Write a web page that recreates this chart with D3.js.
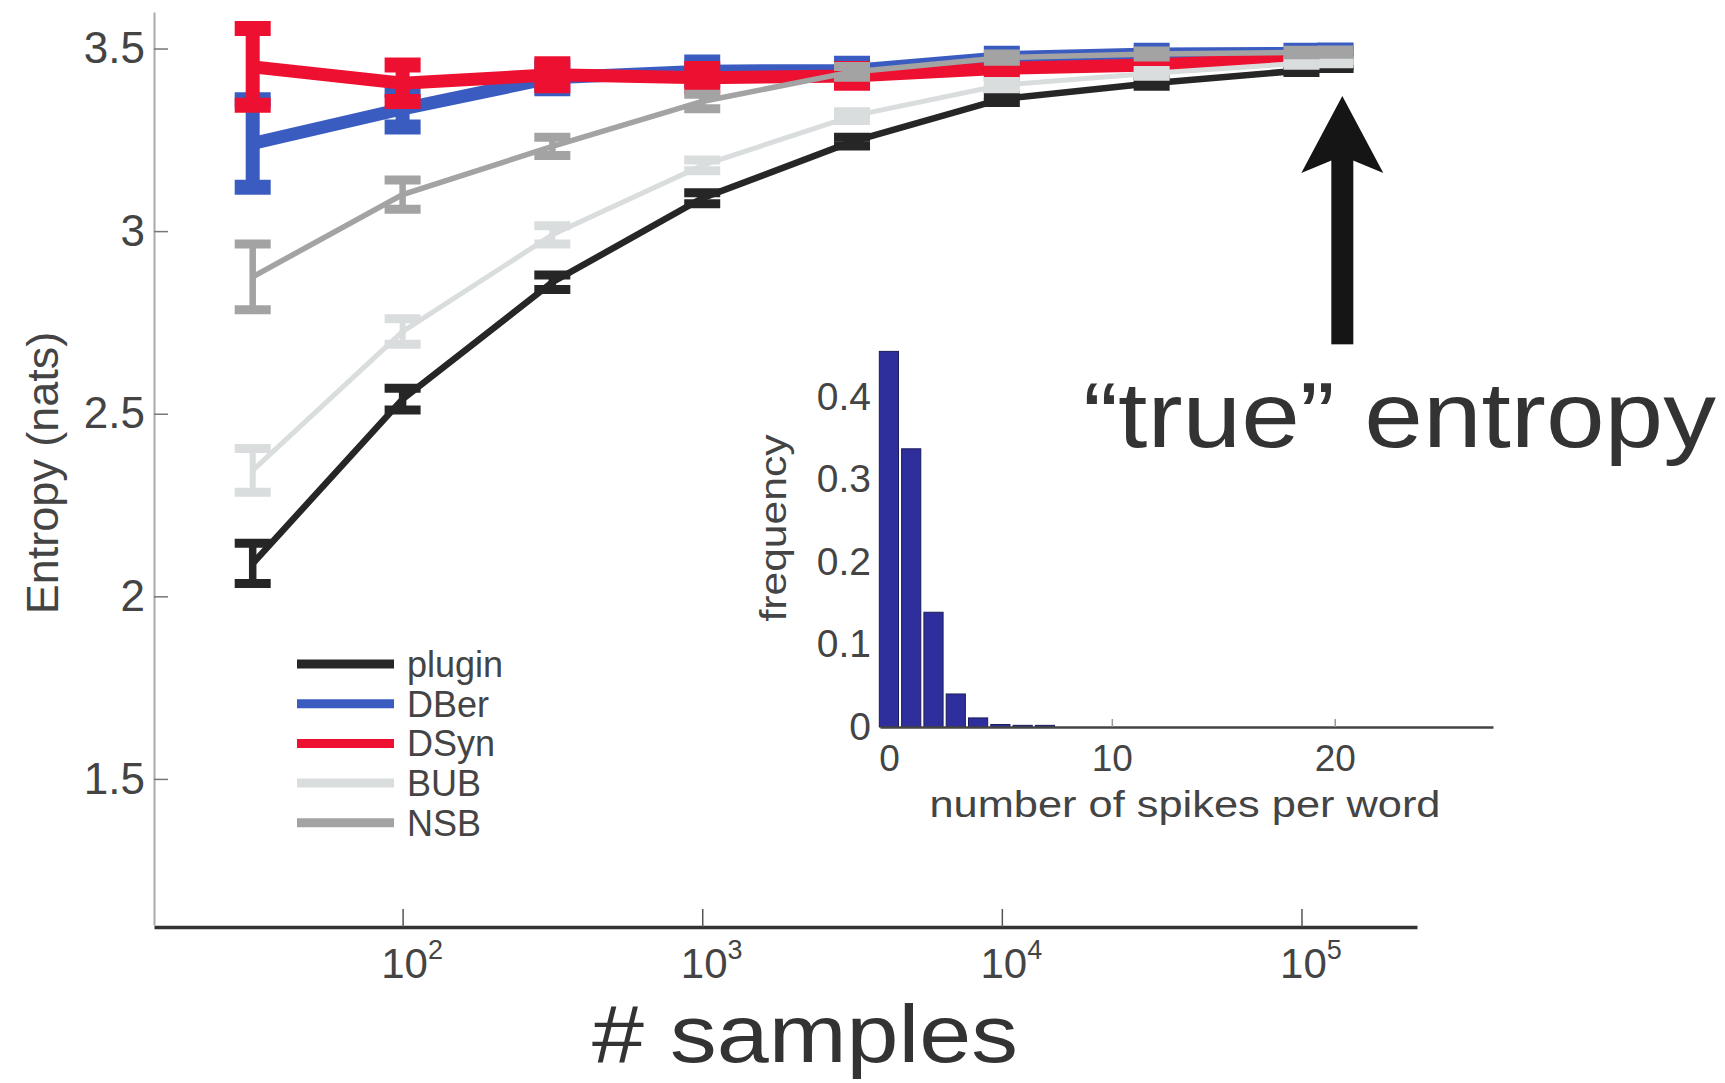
<!DOCTYPE html>
<html>
<head>
<meta charset="utf-8">
<script src="https://cdn.jsdelivr.net/npm/d3@7"></script>
<style>
  body { margin: 0; background: #fff; }
  text { font-family: "Liberation Sans", Arial, sans-serif; }
</style>
</head>
<body>
<div id="container"></div>
<script>
// sample sizes (x, log scale)
var samples = [31.6, 100, 316, 1000, 3162, 10000, 31623, 100000, 130000];

// entropy estimates (nats) and half error bars
var plugin    = [2.09, 2.54, 2.86, 3.09, 3.245, 3.362, 3.405, 3.44, 3.45];
var pluginErr = [0.055, 0.03, 0.02, 0.015, 0.012, 0.01, 0.008, 0.006, 0.005];
var dber      = [3.24, 3.335, 3.42, 3.438, 3.44, 3.475, 3.485, 3.487, 3.49];
var dberErr   = [0.12, 0.05, 0.03, 0.025, 0.02, 0.012, 0.01, 0.008, 0.006];
var dsyn      = [3.45, 3.405, 3.428, 3.42, 3.425, 3.446, 3.455, 3.473, 3.48];
var dsynErr   = [0.105, 0.05, 0.03, 0.025, 0.02, 0.015, 0.01, 0.008, 0.006];
var bub       = [2.345, 2.725, 2.99, 3.18, 3.315, 3.40, 3.432, 3.46, 3.463];
var bubErr    = [0.06, 0.035, 0.025, 0.015, 0.012, 0.01, 0.008, 0.006, 0.005];
var nsb       = [2.875, 3.10, 3.232, 3.355, 3.436, 3.475, 3.485, 3.489, 3.49];
var nsbErr    = [0.09, 0.04, 0.025, 0.02, 0.015, 0.01, 0.008, 0.006, 0.006];

var seriesNames = ["plugin", "DBer", "DSyn", "BUB", "NSB"];
var yTicks = [1.5, 2, 2.5, 3, 3.5];
var xTicksExp = [2, 3, 4, 5];

// inset histogram
var spikeCounts = [0, 1, 2, 3, 4, 5, 6, 7];
var spikeFreq   = [0.455, 0.337, 0.139, 0.04, 0.011, 0.003, 0.002, 0.002];
var insetXTicks = [0, 10, 20];
var insetYTicks = [0, 0.1, 0.2, 0.3, 0.4];

// annotation (arrow from ~2.69 up to ~3.37 at the last sample size)
var arrowRange = [2.69, 3.37];

var W = 1725, H = 1083;

var svg = d3.select("#container").append("svg")
    .attr("width", W).attr("height", H)
    .style("display", "block");

svg.append("rect").attr("width", W).attr("height", H).attr("fill", "#fff");

// escalas
var x = d3.scaleLog().domain([14.8, 2.43e5]).range([154, 1417]);
var y = d3.scaleLinear().domain([1.1, 3.6]).range([925, 12]);

// eje y
var yAxis = svg.append("g")
    .attr("transform", "translate(154,0)")
    .call(d3.axisLeft(y).tickValues(yTicks).tickSizeInner(-14).tickSizeOuter(0)
        .tickPadding(9).tickFormat(function (d) { return String(d); }));
yAxis.select(".domain").attr("stroke", "#aaa").attr("stroke-width", 2);
yAxis.selectAll(".tick line").attr("stroke", "#777").attr("stroke-width", 1.5);
yAxis.selectAll(".tick text").attr("font-size", 44).attr("fill", "#444")
    .attr("font-family", "Liberation Sans, Arial, sans-serif");

// eje x
var xAxis = svg.append("g")
    .attr("transform", "translate(0,927)")
    .call(d3.axisBottom(x).tickValues(xTicksExp.map(function (e) { return Math.pow(10, e); }))
        .tickSizeInner(-18).tickSizeOuter(0).tickFormat(function () { return ""; }));
xAxis.select(".domain").attr("stroke", "#333").attr("stroke-width", 3.5);
xAxis.selectAll(".tick line").attr("stroke", "#555").attr("stroke-width", 1.5);
xAxis.selectAll(".tick text").each(function (d, i) {
    var t = d3.select(this)
        .attr("y", 51).attr("dy", null).attr("x", 9)
        .attr("font-size", 42).attr("fill", "#444")
        .attr("font-family", "Liberation Sans, Arial, sans-serif");
    t.text(null);
    t.append("tspan").text("10");
    t.append("tspan").attr("font-size", 27).attr("dy", -19).text(String(xTicksExp[i]));
});

// y label
svg.append("text")
    .attr("transform", "translate(42,473) rotate(-90)")
    .attr("text-anchor", "middle").attr("dy", "0.35em")
    .attr("font-size", 45).attr("fill", "#444")
    .text("Entropy (nats)");

// x label
svg.append("text")
    .attr("x", 592).attr("y", 1062)
    .attr("font-family", "Lato, 'Open Sans', sans-serif")
    .attr("font-size", 82).attr("fill", "#333")
    .attr("textLength", 426).attr("lengthAdjust", "spacingAndGlyphs")
    .text("# samples");

// series
var series = [
    { name: "plugin", vals: plugin, errs: pluginErr, color: "#262626", lw: 6.5, cap: 9 },
    { name: "DBer", vals: dber, errs: dberErr, color: "#3a5cc0", lw: 13, cap: 15 },
    { name: "DSyn", vals: dsyn, errs: dsynErr, color: "#ee1030", lw: 13, cap: 15 },
    { name: "BUB", vals: bub, errs: bubErr, color: "#d9dddd", lw: 5, cap: 9 },
    { name: "NSB", vals: nsb, errs: nsbErr, color: "#a3a3a3", lw: 5.5, cap: 9 }
];

var line = d3.line()
    .x(function (d) { return x(d.s); })
    .y(function (d) { return y(d.v); });

var capHalf = 18;

series.forEach(function (s) {
    var pts = samples.map(function (sv, i) { return { s: sv, v: s.vals[i], e: s.errs[i] }; });
    var g = svg.append("g").attr("class", "serie");

    g.append("path")
        .datum(pts)
        .attr("d", line)
        .attr("fill", "none")
        .attr("stroke", s.color)
        .attr("stroke-width", s.lw)
        .attr("stroke-linejoin", "miter");

    var eb = g.selectAll(".eb").data(pts).enter().append("g").attr("class", "eb");
    eb.append("line")
        .attr("x1", function (d) { return x(d.s); })
        .attr("x2", function (d) { return x(d.s); })
        .attr("y1", function (d) { return y(d.v - d.e); })
        .attr("y2", function (d) { return y(d.v + d.e); })
        .attr("stroke", s.color).attr("stroke-width", s.lw + 1);
    [-1, 1].forEach(function (sign) {
        eb.append("line")
            .attr("x1", function (d) { return x(d.s) - capHalf; })
            .attr("x2", function (d) { return x(d.s) + capHalf; })
            .attr("y1", function (d) { return y(d.v + sign * d.e); })
            .attr("y2", function (d) { return y(d.v + sign * d.e); })
            .attr("stroke", s.color).attr("stroke-width", s.cap);
    });
});

// leyenda
var legend = svg.append("g").attr("transform", "translate(297,664)");
var leg = legend.selectAll(".leg").data(series).enter().append("g")
    .attr("transform", function (d, i) { return "translate(0," + (i * 39.7) + ")"; });
leg.append("line").attr("x1", 0).attr("x2", 97).attr("y1", 0).attr("y2", 0)
    .attr("stroke", function (d) { return d.color; }).attr("stroke-width", 9);
leg.append("text").attr("x", 110).attr("y", 0).attr("dy", "0.36em")
    .attr("font-size", 36).attr("fill", "#444")
    .text(function (d) { return d.name; });

// flecha "true" entropy
var ax = x(1.39e5) - 2;
var tipY = y(arrowRange[1]), baseY = y(arrowRange[0]);
var arrow = svg.append("g").attr("fill", "#151515");
arrow.append("rect")
    .attr("x", ax - 11).attr("width", 22)
    .attr("y", tipY + 60).attr("height", baseY - tipY - 60);
arrow.append("path")
    .attr("d", "M" + ax + "," + tipY +
        " L" + (ax + 41) + "," + (tipY + 77) +
        " L" + ax + "," + (tipY + 60) +
        " L" + (ax - 41) + "," + (tipY + 77) + " Z");

svg.append("text")
    .attr("x", 1083).attr("y", 447)
    .attr("font-family", "Lato, 'Open Sans', sans-serif")
    .attr("font-size", 92).attr("fill", "#333")
    .attr("textLength", 633).attr("lengthAdjust", "spacingAndGlyphs")
    .text("\u201Ctrue\u201D entropy");

// inset histograma
var ix = d3.scaleLinear().domain([-0.4, 27.1]).range([880, 1493]);
var iy = d3.scaleLinear().domain([0, 0.47]).range([727, 339]);
var barW = 0.86;

var inset = svg.append("g").attr("class", "inset");
inset.selectAll(".bar").data(spikeCounts).enter().append("rect")
    .attr("x", function (d) { return ix(d - barW / 2); })
    .attr("width", ix(barW) - ix(0))
    .attr("y", function (d, i) { return iy(spikeFreq[i]); })
    .attr("height", function (d, i) { return iy(0) - iy(spikeFreq[i]); })
    .attr("fill", "#2e2e9c")
    .attr("stroke", "#1c1c5a").attr("stroke-width", 1);

var ixAxis = inset.append("g")
    .attr("transform", "translate(0,727)")
    .call(d3.axisBottom(ix).tickValues(insetXTicks).tickSizeInner(-8).tickSizeOuter(0)
        .tickFormat(function (d) { return String(d); }));
ixAxis.select(".domain").attr("stroke", "#444").attr("stroke-width", 2.5);
ixAxis.selectAll(".tick line").attr("stroke", "#999").attr("stroke-width", 1.5)
    .filter(function (d) { return d === 0; }).remove();
ixAxis.selectAll(".tick text").attr("y", 44).attr("dy", null)
    .attr("font-size", 37).attr("fill", "#444")
    .attr("font-family", "Liberation Sans, Arial, sans-serif");

var iyAxis = inset.append("g")
    .attr("transform", "translate(880,0)")
    .call(d3.axisLeft(iy).tickValues(insetYTicks).tickSize(0).tickPadding(9)
        .tickFormat(function (d) { return String(d); }));
iyAxis.select(".domain").remove();
iyAxis.selectAll(".tick text").attr("font-size", 39).attr("fill", "#444")
    .attr("font-family", "Liberation Sans, Arial, sans-serif");

inset.append("text")
    .attr("transform", "translate(773,528) rotate(-90)")
    .attr("text-anchor", "middle").attr("dy", "0.35em")
    .attr("font-size", 36).attr("fill", "#444")
    .attr("textLength", 187).attr("lengthAdjust", "spacingAndGlyphs")
    .text("frequency");

inset.append("text")
    .attr("x", 1185).attr("y", 817)
    .attr("text-anchor", "middle")
    .attr("font-size", 37).attr("fill", "#444")
    .attr("textLength", 511).attr("lengthAdjust", "spacingAndGlyphs")
    .text("number of spikes per word");
</script>
</body>
</html>
